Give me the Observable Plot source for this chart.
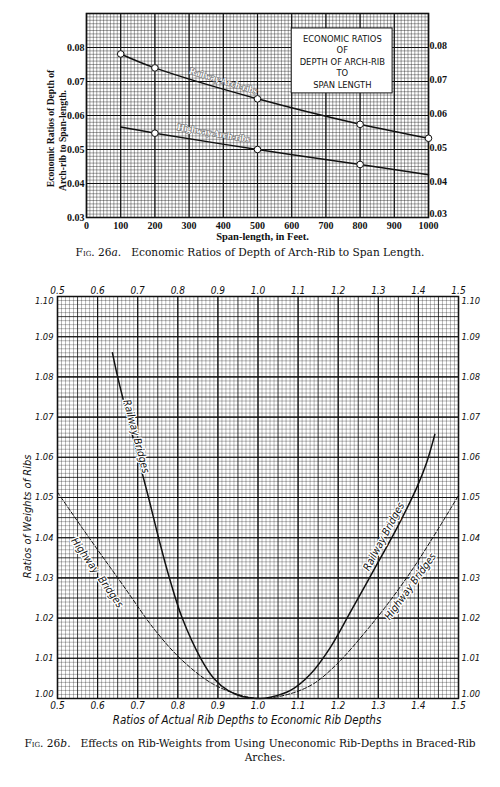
<!DOCTYPE html>
<html><head><meta charset="utf-8">
<script src="https://cdn.jsdelivr.net/npm/d3@7"></script>
<script src="https://cdn.jsdelivr.net/npm/@observablehq/plot@0.6"></script>
<style>
html,body{margin:0;padding:0;background:#fff;}
#page{position:relative;width:500px;height:787px;background:#fff;overflow:hidden;}
#page svg{position:absolute;left:0;}
.cap{position:absolute;left:0;width:500px;text-align:center;font-family:"DejaVu Serif",serif;font-size:10.6px;color:#111;white-space:nowrap;line-height:14px;}
.sc{font-variant:small-caps;}
</style></head><body><div id="page"></div>
<script>
// ---------- Fig. 26a data ----------
const railwaySpan = [100, 200, 500, 800, 1000];
const railwayRatio = [0.0781, 0.0740, 0.0649, 0.0574, 0.0533];
const railwayMarked = [100, 200, 500, 800, 1000];
const highwaySpan = [100, 200, 500, 800, 1000];
const highwayRatio = [0.0566, 0.0548, 0.0500, 0.0456, 0.0426];
const highwayMarked = [200, 500, 800];
const spanTicks = [0, 100, 200, 300, 400, 500, 600, 700, 800, 900, 1000];
const ratioTicks = [0.03, 0.04, 0.05, 0.06, 0.07, 0.08];
const boxTitle = ["ECONOMIC RATIOS", "OF", "DEPTH OF ARCH-RIB", "TO", "SPAN LENGTH"];

// ---------- Fig. 26b data ----------
const railwayDepth = [0.637, 0.650, 0.675, 0.701, 0.727, 0.752, 0.779, 0.811, 0.857, 0.890, 0.925, 0.960, 1.005, 1.031, 1.081, 1.131, 1.181, 1.231, 1.289, 1.347, 1.397, 1.420, 1.441];
const railwayWeight = [1.0860, 1.0800, 1.0700, 1.0600, 1.0500, 1.0400, 1.0300, 1.0200, 1.0100, 1.0050, 1.0020, 1.0005, 1.0000, 1.0003, 1.0020, 1.0061, 1.0128, 1.0216, 1.0320, 1.0425, 1.0527, 1.0585, 1.0657];
const highwayDepth = [0.5, 0.578, 0.661, 0.744, 0.811, 0.886, 0.961, 1.01, 1.081, 1.139, 1.197, 1.264, 1.330, 1.389, 1.447, 1.5];
const highwayWeight = [1.0513, 1.0401, 1.0285, 1.0169, 1.0095, 1.0037, 1.0007, 1.0000, 1.0012, 1.0037, 1.0086, 1.0161, 1.0244, 1.0327, 1.0418, 1.0505];
const depthTicks = [0.5, 0.6, 0.7, 0.8, 0.9, 1.0, 1.1, 1.2, 1.3, 1.4, 1.5];
const weightTicks = [1.00, 1.01, 1.02, 1.03, 1.04, 1.05, 1.06, 1.07, 1.08, 1.09, 1.10];

const page = document.getElementById("page");
const serif = "'Liberation Serif', 'DejaVu Serif', serif";
const hand = "'Liberation Sans Narrow', 'DejaVu Sans Condensed', 'DejaVu Sans', sans-serif";

// ---------- Chart A ----------
const railA = railwaySpan.map((x, i) => ({x, y: railwayRatio[i]}));
const highA = highwaySpan.map((x, i) => ({x, y: highwayRatio[i]}));
const minorXA = d3.range(0, 101).map(d => d * 10);
const minorYA = d3.range(30, 91).map(d => d / 1000);
const majorYA = d3.range(3, 10).map(d => d / 100);
const tickA = {tickSize: 0, tickFormat: d3.format(".2f"), fontSize: 10, fontWeight: "bold", label: null};

const chartA = Plot.plot({
  width: 500, height: 245,
  marginTop: 13, marginBottom: 28, marginLeft: 86, marginRight: 72,
  x: {domain: [0, 1000]},
  y: {domain: [0.03, 0.09]},
  style: {fontFamily: serif, background: "white", color: "#111"},
  marks: [
    Plot.ruleX(minorXA, {stroke: "#111", strokeWidth: 0.55, strokeOpacity: 0.7}),
    Plot.ruleY(minorYA, {stroke: "#111", strokeWidth: 0.55, strokeOpacity: 0.7}),
    Plot.ruleX(spanTicks, {stroke: "#111", strokeWidth: 1.2}),
    Plot.ruleY(majorYA, {stroke: "#111", strokeWidth: 1.2}),
    Plot.frame({stroke: "#111", strokeWidth: 1.6}),
    Plot.rect([0], {x1: 600, x2: 895, y1: 0.0665, y2: 0.0856, fill: "white", stroke: "#111", strokeWidth: 1}),
    Plot.text([boxTitle.join("\n")], {x: 748, y: 0.07605, text: d => d, fontFamily: "'DejaVu Sans', sans-serif", fontSize: 8.4, lineHeight: 1.37, fill: "#111", letterSpacing: 0.5}),
    Plot.line(railA, {x: "x", y: "y", curve: "catmull-rom", stroke: "#111", strokeWidth: 1.5}),
    Plot.line(highA, {x: "x", y: "y", curve: "catmull-rom", stroke: "#111", strokeWidth: 1.5}),
    Plot.dot(railA.filter(d => railwayMarked.includes(d.x)), {x: "x", y: "y", r: 3.3, stroke: "#111", strokeWidth: 1, fill: "white"}),
    Plot.dot(highA.filter(d => highwayMarked.includes(d.x)), {x: "x", y: "y", r: 3.3, stroke: "#111", strokeWidth: 1, fill: "white"}),
    Plot.text(["Railway Arch-ribs"], {x: 400, y: 0.0702, text: d => d, rotate: 17, fontSize: 9, fontWeight: "bold", fill: "white", stroke: "#777", strokeWidth: 1.3}),
    Plot.text(["Highway Arch-ribs"], {x: 372, y: 0.0548, text: d => d, rotate: 10, fontSize: 9, fontWeight: "bold", fill: "white", stroke: "#777", strokeWidth: 1.3}),
    Plot.axisX(spanTicks, {anchor: "bottom", tickSize: 0, tickPadding: 4, tickFormat: d => String(d), fontSize: 10, fontWeight: "bold", label: null}),
    Plot.axisY(ratioTicks, {anchor: "left", tickPadding: 2, ...tickA}),
    Plot.axisY(ratioTicks.slice(1), {anchor: "right", tickPadding: 1, dy: -2, ...tickA}),
    Plot.axisY(ratioTicks.slice(0, 1), {anchor: "right", tickPadding: 1, dy: -4, ...tickA}),
    Plot.text(["Span-length, in Feet."], {frameAnchor: "bottom", lineAnchor: "middle", textAnchor: "middle", dy: 19, dx: 5, text: d => d, fontSize: 10.5, fontWeight: "bold", fill: "#111"}),
    Plot.text(["Economic Ratios of Depth of"], {frameAnchor: "left", textAnchor: "middle", lineAnchor: "middle", rotate: -90, dx: -36, dy: 13, text: d => d, fontSize: 9.6, fontWeight: "bold", fill: "#111"}),
    Plot.text(["Arch-rib to Span-length."], {frameAnchor: "left", textAnchor: "middle", lineAnchor: "middle", rotate: -90, dx: -24, dy: 25, text: d => d, fontSize: 9.6, fontWeight: "bold", fill: "#111"})
  ]
});
chartA.style.top = "0px";
page.appendChild(chartA);

const capA = document.createElement("div");
capA.className = "cap";
capA.style.top = "245px";
capA.innerHTML = '<span class="sc">Fig.</span> 26<i>a</i>.&nbsp;&nbsp; Economic Ratios of Depth of Arch-Rib to Span Length.';
page.appendChild(capA);

// ---------- Chart B ----------
const railB = railwayDepth.map((x, i) => ({x, y: railwayWeight[i]}));
const highB = highwayDepth.map((x, i) => ({x, y: highwayWeight[i]}));
const minorXB = d3.range(50, 151).map(d => d / 100);
const midXB = d3.range(10, 31).map(d => d / 20);
const minorYB = d3.range(1000, 1101).map(d => d / 1000);
const midYB = d3.range(200, 221).map(d => d / 200);
const tickB = {tickSize: 0, fontSize: 10, fontStyle: "italic", label: null};
const tickBY = {tickSize: 0, fontSize: 9.3, fontStyle: "italic", label: null};
const fmtY = d => d.toFixed(2);
const midWeights = weightTicks.slice(1, -1);
const lowWeight = weightTicks.slice(0, 1);
const topWeight = weightTicks.slice(-1);

const chartB = Plot.plot({
  width: 500, height: 460,
  marginTop: 24, marginBottom: 34, marginLeft: 57, marginRight: 42,
  x: {domain: [0.5, 1.5]},
  y: {domain: [1.0, 1.1]},
  style: {fontFamily: hand, background: "white", color: "#111"},
  marks: [
    Plot.ruleX(minorXB, {stroke: "#111", strokeWidth: 0.5, strokeOpacity: 0.6}),
    Plot.ruleY(minorYB, {stroke: "#111", strokeWidth: 0.5, strokeOpacity: 0.6}),
    Plot.ruleX(midXB, {stroke: "#111", strokeWidth: 0.8, strokeOpacity: 0.85}),
    Plot.ruleY(midYB, {stroke: "#111", strokeWidth: 0.8, strokeOpacity: 0.85}),
    Plot.ruleX(depthTicks, {stroke: "#111", strokeWidth: 1.1}),
    Plot.ruleY(weightTicks, {stroke: "#111", strokeWidth: 1.1}),
    Plot.frame({stroke: "#111", strokeWidth: 1.5}),
    Plot.line(railB, {x: "x", y: "y", curve: "catmull-rom", stroke: "#111", strokeWidth: 1.5}),
    Plot.line(highB, {x: "x", y: "y", curve: "catmull-rom", stroke: "#111", strokeWidth: 1, strokeDasharray: "4,2"}),
    Plot.text(["Railway Bridges"], {x: 0.6965, y: 1.0652, text: d => d, rotate: 75, fontSize: 10.5, fontStyle: "italic", fill: "#111", stroke: "white", strokeWidth: 2.5}),
    Plot.text(["Highway  Bridges"], {x: 0.599, y: 1.0313, text: d => d, rotate: 55, fontSize: 10.5, fontStyle: "italic", fill: "#111", stroke: "white", strokeWidth: 2.5}),
    Plot.text(["Railway Bridges"], {x: 1.3137, y: 1.0403, text: d => d, rotate: -62, fontSize: 10.5, fontStyle: "italic", fill: "#111", stroke: "white", strokeWidth: 2.5}),
    Plot.text(["Highway Bridges"], {x: 1.380, y: 1.0279, text: d => d, rotate: -54, fontSize: 10.5, fontStyle: "italic", fill: "#111", stroke: "white", strokeWidth: 2.5}),
    Plot.axisX(depthTicks, {anchor: "top", tickPadding: 3, tickFormat: d => d.toFixed(1), ...tickB}),
    Plot.axisX(depthTicks, {anchor: "bottom", tickPadding: 3, tickFormat: d => d.toFixed(1), ...tickB}),
    Plot.axisY(midWeights, {anchor: "left", tickPadding: 4, tickFormat: fmtY, ...tickBY}),
    Plot.axisY(topWeight, {anchor: "left", tickPadding: 4, tickFormat: fmtY, dy: 5, ...tickBY}),
    Plot.axisY(lowWeight, {anchor: "left", tickPadding: 4, tickFormat: fmtY, dy: -4, ...tickBY}),
    Plot.axisY(midWeights, {anchor: "right", tickPadding: 3, tickFormat: fmtY, ...tickBY}),
    Plot.axisY(topWeight, {anchor: "right", tickPadding: 3, tickFormat: fmtY, dy: 5, ...tickBY}),
    Plot.axisY(lowWeight, {anchor: "right", tickPadding: 3, tickFormat: fmtY, dy: -4, ...tickBY}),
    Plot.text(["Ratios of Actual Rib Depths to Economic Rib Depths"], {frameAnchor: "bottom", lineAnchor: "middle", textAnchor: "middle", dy: 22, dx: -11, text: d => d, fontSize: 11.5, fontStyle: "italic", fill: "#111"}),
    Plot.text(["Ratios of Weights of Ribs"], {frameAnchor: "left", textAnchor: "middle", lineAnchor: "middle", rotate: -90, dx: -30, dy: 19, text: d => d, fontSize: 11, fontStyle: "italic", fill: "#111"})
  ]
});
chartB.style.top = "272px";
page.appendChild(chartB);

const capB = document.createElement("div");
capB.className = "cap";
capB.style.top = "736px";
capB.innerHTML = '<span class="sc">Fig.</span> 26<i>b</i>.&nbsp;&nbsp; Effects on Rib-Weights from Using Uneconomic Rib-Depths in Braced-Rib<br><span style="position:relative;left:15px">Arches.</span>';
page.appendChild(capB);
</script>
</body></html>
